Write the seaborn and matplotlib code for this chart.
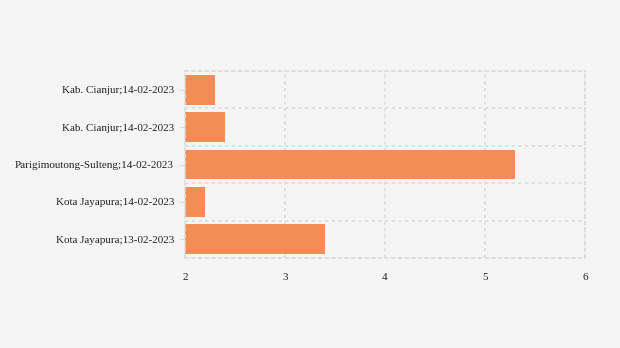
import matplotlib
matplotlib.use("Agg")
import matplotlib.pyplot as plt
import seaborn as sns
import pandas as pd

labels = ["Kab. Cianjur;14-02-2023", "Kab. Cianjur;14-02-2023",
          "Parigimoutong-Sulteng;14-02-2023", "Kota Jayapura;14-02-2023",
          "Kota Jayapura;13-02-2023"]
values = [2.3, 2.4, 5.3, 2.2, 3.4]
xticks = [2, 3, 4, 5, 6]

sns.set_theme(style="white")
plt.rcParams['font.family'] = ['Liberation Serif', 'DejaVu Serif']

bg = "#f5f5f5"
fig = plt.figure(figsize=(6.2, 3.48), dpi=100, facecolor=bg)
ax = fig.add_axes([185/620, 1-258/348, 400/620, 187/348])
ax.set_facecolor(bg)

df = pd.DataFrame({"idx": list(range(len(labels))), "label": labels, "value": values})
base = xticks[0]
ax.barh(df["idx"], df["value"] - base, left=base, height=0.8,
        color="#f3874a", alpha=0.94, zorder=2, linewidth=0)

ax.set_xlim(xticks[0], xticks[-1])
ax.set_ylim(len(labels) - 0.5, -0.5)
ax.set_xticks(xticks)
ax.set_xticklabels([str(t) for t in xticks], fontsize=8, color="#222222")
ax.set_yticks(df["idx"])
ax.set_yticklabels(df["label"], fontsize=8, color="#222222")
ax.set_yticks([i - 0.5 for i in range(len(labels) + 1)], minor=True)

gridkw = dict(color="#dcdcdc", linestyle=(0, (2, 2)), linewidth=1.2)
ax.set_axisbelow(True)
ax.grid(True, axis="x", which="major", **gridkw)
ax.grid(True, axis="y", which="minor", **gridkw)
ax.grid(False, axis="y", which="major")

ax.tick_params(axis="x", length=0, pad=11)
ax.tick_params(axis="y", which="major", length=4, color="#dddddd", width=1, pad=4, left=True)
ax.tick_params(axis="y", which="minor", length=0)

for s in ax.spines.values():
    s.set_visible(True)
    s.set_color("#dcdcdc")
    s.set_linestyle((0, (2, 2)))
    s.set_linewidth(1.2)

ax.set_xlabel("")
ax.set_ylabel("")
fig.savefig("out.png", dpi=100, facecolor=bg)
